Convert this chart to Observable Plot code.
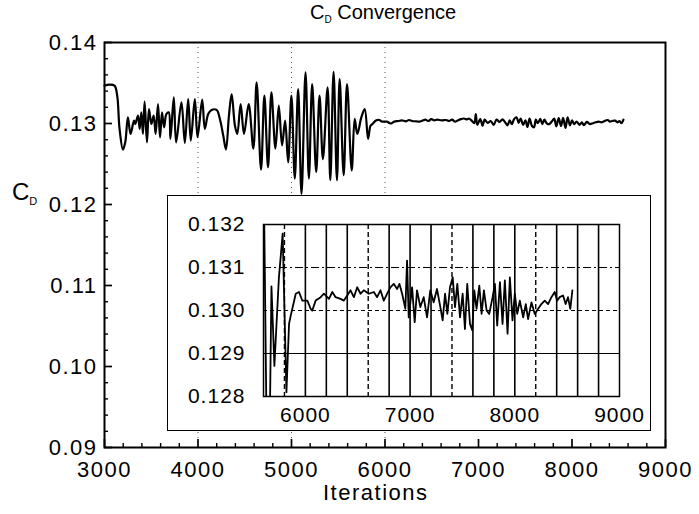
<!DOCTYPE html>
<html><head><meta charset="utf-8">
<script src="https://cdn.jsdelivr.net/npm/d3@7"></script>
<script src="https://cdn.jsdelivr.net/npm/@observablehq/plot@0.6"></script>
<style>
body{margin:0;background:#fff;font-family:"Liberation Sans",Arial,sans-serif;}
#wrap{position:relative;width:699px;height:514px;overflow:hidden;background:#fff;}
.lbl{position:absolute;color:#000;white-space:nowrap;line-height:1;}
#main{position:absolute;left:0;top:0;}
#inset{position:absolute;left:168px;top:196px;}
#insetBorder{position:absolute;left:167px;top:195px;width:484px;height:236px;border:1.5px solid #000;box-sizing:border-box;pointer-events:none;}
</style></head><body>
<div id="wrap">
  <div id="main"></div>
  <div id="inset"></div>
  <div id="insetBorder"></div>
  <div class="lbl" style="left:310px;top:2px;font-size:20px;">C<sub style="font-size:10px;vertical-align:-4px;">D</sub> Convergence</div>
  <div class="lbl" style="left:12px;top:180px;font-size:24px;">C<sub style="font-size:11px;vertical-align:-5px;">D</sub></div>
  <div class="lbl" style="left:323px;top:482px;font-size:22px;letter-spacing:1.5px;">Iterations</div>
</div>
<script>
// Data
const iterations = [
  3000,3050,3107,3136,3161,3197,3222,3250,3279,3315,
  3329,3358,3376,3394,3411,3429,3454,3476,3501,3526,
  3547,3572,3594,3615,3637,3662,3687,3705,3741,3766,
  3823,3859,3895,3923,3966,3995,4045,4073,4109,4145,
  4199,4234,4270,4299,4331,4360,4395,4420,4456,4492,
  4542,4592,4627,4674,4710,4749,4785,4828,4864,4899,
  4932,4964,4999,5035,5071,5107,5150,5186,5221,5264,
  5300,5336,5386,5415,5450,5486,5515,5558,5594,5644,
  5676,5704,5747,5783,5819,5844,5860,5908,5939,5971,
  6019,6050,6066,6098,6146,6177,6225,6257,6289,6336,
  6368,6400,6431,6463,6495,6527,6558,6606,6654,6685,
  6717,6749,6781,6812,6844,6876,6898,6924,6955,6971,
  6987,7019,7044,7066,7098,7130,7162,7193,7225,7257,
  7289,7311,7334,7356,7381,7407,7429,7451,7477,7502,
  7524,7546,7572,7594,7613,7635,7661,7683,7705,7731,
  7756,7788,7810,7832,7858,7883,7905,7931,7953,7978,
  8000,8023,8048,8080,8105,8127,8159,8191,8223,8254,
  8286,8318,8350,8381,8404,8429,8461,8486,8508,8530,8550
];
const cdValues = [
  0.13467,0.13480,0.13467,0.13343,0.12933,0.12678,0.12768,0.13076,0.12871,0.13035,
  0.12994,0.13097,0.12933,0.13138,0.12871,0.13269,0.12768,0.13179,0.12994,0.13097,
  0.12871,0.13241,0.12830,0.13138,0.12953,0.13117,0.13138,0.12810,0.13323,0.12768,
  0.13261,0.12760,0.13302,0.12789,0.13302,0.12830,0.13294,0.12933,0.13117,0.13167,
  0.13167,0.13056,0.12851,0.12678,0.13097,0.13364,0.12974,0.12871,0.13241,0.12871,
  0.13240,0.12690,0.13507,0.12430,0.13343,0.12460,0.13384,0.12690,0.13220,0.12730,
  0.13036,0.12520,0.13343,0.12320,0.13425,0.12130,0.13630,0.12320,0.13487,0.12400,
  0.13343,0.12560,0.13446,0.12300,0.13639,0.12300,0.13548,0.12360,0.13487,0.12420,
  0.13056,0.12871,0.13076,0.13179,0.12810,0.12969,0.12988,0.13039,0.13043,0.13023,
  0.13023,0.13004,0.13000,0.13023,0.13031,0.13039,0.13027,0.13043,0.13031,0.13027,
  0.13023,0.13035,0.13047,0.13031,0.13054,0.13039,0.13047,0.13039,0.13043,0.13031,
  0.13047,0.13023,0.13039,0.13054,0.13062,0.13050,0.13062,0.13039,0.13004,0.13116,
  0.12984,0.13054,0.12973,0.13047,0.13008,0.13031,0.12984,0.13047,0.13019,0.13050,
  0.13008,0.12977,0.13039,0.12992,0.13054,0.13077,0.13008,0.13062,0.12984,0.13039,
  0.12957,0.13062,0.12969,0.12954,0.13047,0.13004,0.13058,0.12992,0.13047,0.13000,
  0.12992,0.13031,0.13062,0.12965,0.13066,0.12969,0.13070,0.12946,0.13077,0.12977,
  0.13039,0.12992,0.13023,0.12984,0.13015,0.12980,0.13019,0.12992,0.13004,0.13015,
  0.13023,0.13015,0.13031,0.13043,0.13023,0.13031,0.13035,0.13015,0.13031,0.13004,0.13047
];

// Main axes ticks
const mainXTicks = [3000,4000,5000,6000,7000,8000,9000];
const mainXMinor = [3200,3400,3600,3800,4200,4400,4600,4800,5200,5400,5600,5800,6200,6400,6600,6800,7200,7400,7600,7800,8200,8400,8600,8800];
const mainYTicks = [0.09,0.10,0.11,0.12,0.13,0.14];
const mainYMinor = [0.092,0.094,0.096,0.098,0.102,0.104,0.106,0.108,0.112,0.114,0.116,0.118,0.122,0.124,0.126,0.128,0.132,0.134,0.136,0.138];
const mainGridX = [4000,5000,6000];

// Inset ticks and grid
const insetXTicks = [6000,7000,8000,9000];
const insetYTicks = [0.128,0.129,0.130,0.131,0.132];
const insetGridSolidX = [6000,6200,6400,6800,7000,7200,7600,7800,8000,8400,8600,8800];
const insetGridDashedX = [5800,6600,7400,8200];

const data = iterations.map((it, i) => ({it, cd: cdValues[i]}));

const W = 699, H = 514;
const mL = 104, mR = 34, mT = 42, mB = 67;
const fW = W - mL - mR, fH = H - mT - mB;

const main = Plot.plot({
  width: W, height: H,
  marginLeft: mL, marginRight: mR, marginTop: mT, marginBottom: mB,
  style: {fontFamily: "Liberation Sans, Arial, sans-serif", fontSize: "22px", letterSpacing: "1.5px", color: "#000", background: "#fff"},
  x: {domain: [3000, 9000]},
  y: {domain: [0.09, 0.14]},
  marks: [
    Plot.ruleX(mainGridX, {x: d => d, stroke: "#555", strokeWidth: 1, strokeDasharray: "1,4"}),
    Plot.line(data, {x: "it", y: "cd", curve: "catmull-rom", stroke: "#000", strokeWidth: 2.2}),
    Plot.ruleX(mainXTicks, {x: d => d, insetTop: fH - 8, stroke: "#000", strokeWidth: 1.7}),
    Plot.ruleX(mainXMinor, {x: d => d, insetTop: fH - 4, stroke: "#000", strokeWidth: 1.4}),
    Plot.ruleY(mainYTicks, {y: d => d, insetRight: fW - 8, stroke: "#000", strokeWidth: 1.7}),
    Plot.ruleY(mainYMinor, {y: d => d, insetRight: fW - 4, stroke: "#000", strokeWidth: 1.4}),
    Plot.axisX({ticks: mainXTicks, tickSize: 0, tickPadding: 14, tickFormat: d3.format("d"), label: null}),
    Plot.axisY({ticks: mainYTicks, tickSize: 0, tickPadding: 7, tickFormat: d3.format(".2f"), label: null}),
    Plot.frame({stroke: "#000", strokeWidth: 2})
  ]
});
document.getElementById("main").appendChild(main);

const iW = 483, iH = 235;
const inset = Plot.plot({
  width: iW, height: iH,
  marginLeft: 95, marginRight: 32, marginTop: 28, marginBottom: 35,
  style: {fontFamily: "Liberation Sans, Arial, sans-serif", fontSize: "21px", letterSpacing: "1px", color: "#000", background: "#fff"},
  x: {domain: [5600, 9000]},
  y: {domain: [0.128, 0.132]},
  marks: [
    Plot.ruleX(insetGridSolidX, {x: d => d, stroke: "#000", strokeWidth: 1.6}),
    Plot.ruleX(insetGridDashedX, {x: d => d, stroke: "#000", strokeWidth: 1.4, strokeDasharray: "5,3"}),
    Plot.ruleY([0.131], {y: d => d, stroke: "#000", strokeWidth: 1, strokeDasharray: "8,3,2,3"}),
    Plot.ruleY([0.130], {y: d => d, stroke: "#000", strokeWidth: 1, strokeDasharray: "4,3"}),
    Plot.ruleY([0.129], {y: d => d, stroke: "#000", strokeWidth: 1}),
    Plot.line(data, {x: "it", y: "cd", curve: "linear", stroke: "#000", strokeWidth: 1.8, clip: true}),
    Plot.axisX({ticks: insetXTicks, tickSize: 0, tickPadding: 11, tickFormat: d3.format("d"), label: null}),
    Plot.axisY({ticks: insetYTicks, tickSize: 0, tickPadding: 18, tickFormat: d3.format(".3f"), label: null}),
    Plot.frame({stroke: "#000", strokeWidth: 1.5})
  ]
});
document.getElementById("inset").appendChild(inset);
</script>
</body></html>
